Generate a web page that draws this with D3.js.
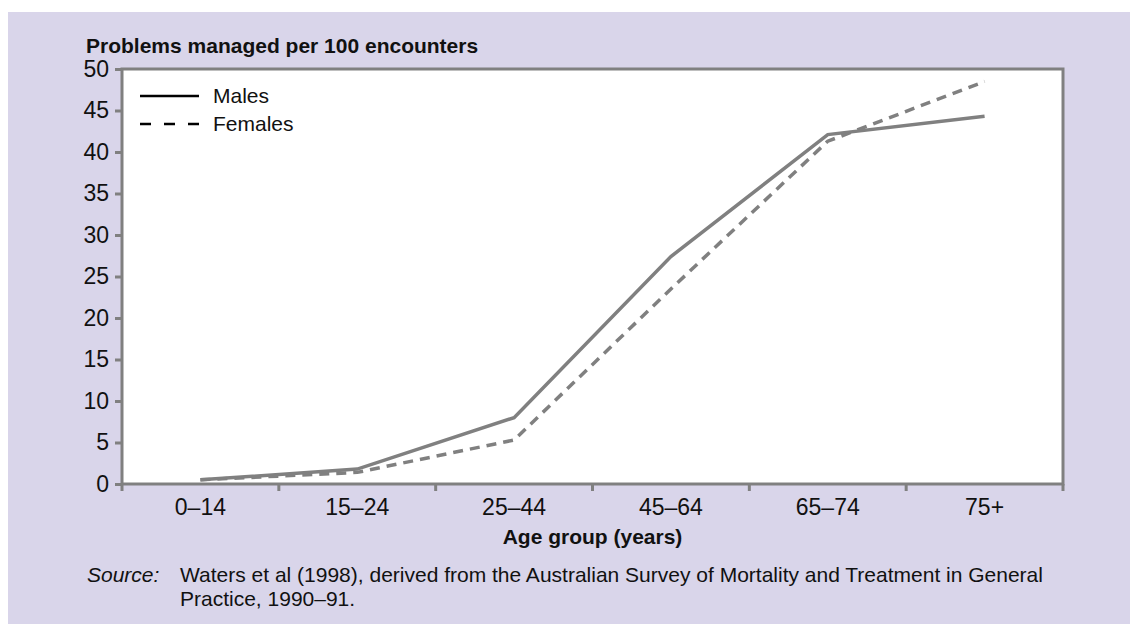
<!DOCTYPE html>
<html>
<head>
<meta charset="utf-8">
<script src="https://cdn.jsdelivr.net/npm/d3@7"></script>
<style>
  body { margin: 0; background: #fff; }
  svg text { font-family: "Liberation Sans", Arial, sans-serif; fill: #111; }
</style>
</head>
<body>
<div id="chart"></div>
<script>
// data
const ageGroups = ["0–14", "15–24", "25–44", "45–64", "65–74", "75+"];
const males = [0.5, 1.8, 8.0, 27.4, 42.1, 44.3];
const females = [0.5, 1.4, 5.3, 23.5, 41.3, 48.5];
const yTicks = [0, 5, 10, 15, 20, 25, 30, 35, 40, 45, 50];

const W = 1130, H = 624;
const m = {left: 122, right: 1063, top: 69, bottom: 484};

let svg = d3.select("#chart").append("svg")
    .attr("width", W).attr("height", H);

// lavender panel
svg.append("rect")
    .attr("x", 8).attr("y", 12)
    .attr("width", W - 8).attr("height", H - 12)
    .style("fill", "#d9d5ea");

// plot area
svg.append("rect")
    .attr("x", m.left).attr("y", m.top)
    .attr("width", m.right - m.left).attr("height", m.bottom - m.top)
    .style("fill", "#fff")
    .style("stroke", "#808080")
    .style("stroke-width", 3);

let x = d3.scaleBand().domain(ageGroups).range([m.left, m.right]);
let y = d3.scaleLinear().domain([0, 50]).range([m.bottom, m.top]);

// y axis
let yAxis = svg.append("g")
    .attr("transform", "translate(" + m.left + ",0)")
    .call(d3.axisLeft(y).tickValues(yTicks).tickSize(7).tickPadding(6));
yAxis.select(".domain").remove();
yAxis.selectAll(".tick line").style("stroke", "#808080").style("stroke-width", 3);
yAxis.selectAll(".tick text").style("font-size", "23px").style("fill", "#111")
    .style("font-family", "Liberation Sans, Arial, sans-serif");

// x axis, ticks on band edges
let xAxis = svg.append("g")
    .attr("transform", "translate(0," + m.bottom + ")");
let edges = ageGroups.map(d => x(d)).concat([m.right]);
xAxis.selectAll("line.tk").data(edges).enter().append("line")
    .attr("class", "tk")
    .attr("x1", d => d).attr("x2", d => d)
    .attr("y1", 0).attr("y2", 7)
    .style("stroke", "#808080").style("stroke-width", 3);
xAxis.selectAll("text").data(ageGroups).enter().append("text")
    .attr("x", d => x(d) + x.bandwidth() / 2)
    .attr("y", 31)
    .attr("text-anchor", "middle")
    .style("font-size", "23px")
    .text(d => d);

// lines
let line = d3.line()
    .x((d, i) => x(ageGroups[i]) + x.bandwidth() / 2)
    .y(d => y(d));

svg.append("path")
    .datum(males)
    .attr("d", line)
    .style("fill", "none")
    .style("stroke", "#808080")
    .style("stroke-width", 3.5);

svg.append("path")
    .datum(females)
    .attr("d", line)
    .style("fill", "none")
    .style("stroke", "#808080")
    .style("stroke-width", 3.5)
    .style("stroke-dasharray", "10,7");

// legend
let legend = svg.append("g");
legend.append("line")
    .attr("x1", 140).attr("x2", 199).attr("y1", 96).attr("y2", 96)
    .style("stroke", "#000").style("stroke-width", 2.5);
legend.append("line")
    .attr("x1", 140).attr("x2", 199).attr("y1", 124).attr("y2", 124)
    .style("stroke", "#000").style("stroke-width", 2.5)
    .style("stroke-dasharray", "11,13");
legend.append("text").attr("x", 213).attr("y", 103)
    .style("font-size", "21px").text("Males");
legend.append("text").attr("x", 213).attr("y", 131)
    .style("font-size", "21px").text("Females");

// titles
svg.append("text")
    .attr("x", 86).attr("y", 53)
    .style("font-size", "21px").style("font-weight", "bold")
    .text("Problems managed per 100 encounters");

svg.append("text")
    .attr("x", (m.left + m.right) / 2).attr("y", 544)
    .attr("text-anchor", "middle")
    .style("font-size", "21px").style("font-weight", "bold")
    .text("Age group (years)");

// source note
svg.append("text")
    .attr("x", 87).attr("y", 582)
    .style("font-size", "21px").style("font-style", "italic")
    .text("Source:");
svg.append("text")
    .attr("x", 180).attr("y", 582)
    .style("font-size", "21px")
    .text("Waters et al (1998), derived from the Australian Survey of Mortality and Treatment in General");
svg.append("text")
    .attr("x", 180).attr("y", 606)
    .style("font-size", "21px")
    .text("Practice, 1990–91.");
</script>
</body>
</html>
